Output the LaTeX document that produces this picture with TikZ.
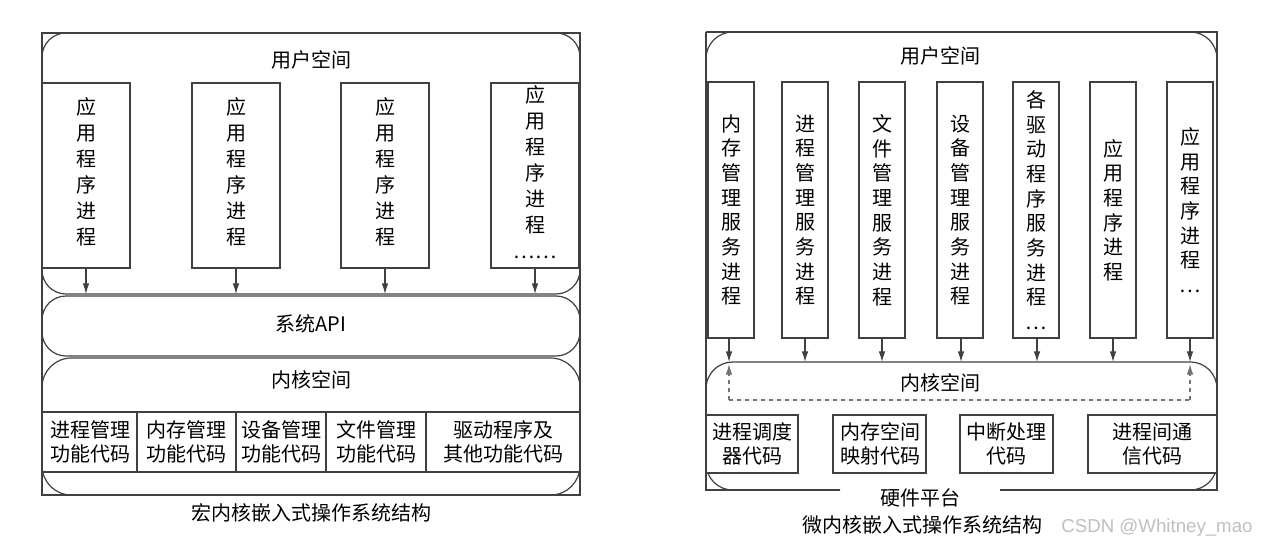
\documentclass[tikz,border=0pt]{standalone}
\usepackage{fontspec}
\setmainfont{Noto Sans CJK SC}
\usetikzlibrary{arrows.meta}
\begin{document}
\begin{tikzpicture}[x=0.75pt,y=-0.75pt,line width=0.9pt,draw=black!75,
  txt/.style={font=\fontsize{15}{18.5}\selectfont,inner sep=0pt},
  vtxt/.style={font=\fontsize{15}{19.5}\selectfont,inner sep=0pt,align=center},
  vtxtb/.style={font=\fontsize{15}{18.5}\selectfont,inner sep=0pt,align=center},
  box/.style={draw=black!75,fill=white},
  arr/.style={-{Latex[length=8pt,width=5pt]}}]
\useasboundingbox (0,0) rectangle (1277,553);
% ===== left =====
\draw (42,33) rectangle (580,495);
\draw[rounded corners=18pt] (42,33) rectangle (580,294);
\draw[rounded corners=18pt] (42,296) rectangle (580,356);
\draw[rounded corners=22pt] (42,358) rectangle (580,495);
\node[txt] (lu) at (311,60) {用户空间};
\foreach \n/\x/\t in {a/86/{应\\用\\程\\序\\进\\程},b/236/{应\\用\\程\\序\\进\\程},c/385/{应\\用\\程\\序\\进\\程}}{
  \draw[box] (\x-44,83) rectangle (\x+44,268);
  \node[vtxt] (l\n) at (\x,172) {\t};
  \coordinate (l\n b) at (\x,268); \coordinate (l\n e) at (\x,294);
  \draw[arr] (l\n b) -- (l\n e);
}
\draw[box] (491,83) rectangle (579,268);
\node[vtxt] (ld) at (535,172) {应\\用\\程\\序\\进\\程\\……};
\coordinate (ldb) at (535,268); \coordinate (lde) at (535,294);
\draw[arr] (ldb) -- (lde);
\node[txt] (api) at (311,324) {系统API};
\node[txt] (lk) at (311,380) {内核空间};
\draw (42,412) rectangle (580,472);
\foreach \x in {137,236,326,426} \draw (\x,412) -- (\x,472);
\node[txt,align=center] (f1) at (90,442) {进程管理\\功能代码};
\node[txt,align=center] (f2) at (186,442) {内存管理\\功能代码};
\node[txt,align=center] (f3) at (281,442) {设备管理\\功能代码};
\node[txt,align=center] (f4) at (376,442) {文件管理\\功能代码};
\node[txt,align=center] (f5) at (503,442) {驱动程序及\\其他功能代码};
\node[txt] (lcap) at (311,513) {宏内核嵌入式操作系统结构};
% ===== right =====
\draw (706,32) -- (706,490) -- (840,490);
\draw (1000,490) -- (1217,490) -- (1217,32) -- (706,32);
\draw[rounded corners=20pt] (706,362) -- (706,32) -- (1217,32) -- (1217,362);
\draw[rounded corners=20pt] (840,490) -- (706,490) -- (706,362) -- (1217,362) -- (1217,490) -- (1000,490);
\node[txt] (ru) at (940,56) {用户空间};
\foreach \n/\x/\t/\c in {
  p1/731/{内\\存\\管\\理\\服\\务\\进\\程}/210,
  p2/805/{进\\程\\管\\理\\服\\务\\进\\程}/210,
  p3/882/{文\\件\\管\\理\\服\\务\\进\\程}/210,
  p4/960/{设\\备\\管\\理\\服\\务\\进\\程}/210,
  p5/1036/{各\\驱\\动\\程\\序\\服\\务\\进\\程\\…}/210,
  p6/1113/{应\\用\\程\\序\\进\\程}/210,
  p7/1190/{应\\用\\程\\序\\进\\程\\…}/210}{
  \draw[box] (\x-23,82) rectangle (\x+23,338);
  \node[vtxtb] (r\n) at (\x,\c) {\t};
}
\foreach \n/\x in {p1/729,p2/805,p3/882,p4/961,p5/1037,p6/1113,p7/1190}{
  \coordinate (r\n b) at (\x,338); \coordinate (r\n e) at (\x,362);
  \draw[arr] (r\n b) -- (r\n e);
}
\coordinate (dl) at (729,400); \coordinate (dr) at (1190,400);
\coordinate (dlt) at (729,364); \coordinate (drt) at (1190,364);
\draw[dashed,black!55,arr] (dl) -- (dlt);
\draw[dashed,black!55,arr] (dr) -- (drt);
\draw[dashed,black!55] (dl) -- (dr);
\node[txt] (rk) at (940,383) {内核空间};
\draw[box] (706,415) rectangle (798,473);
\draw[box] (833,415) rectangle (926,473);
\draw[box] (960,415) rectangle (1053,473);
\draw[box] (1088,415) rectangle (1217,473);
\node[txt,align=center] (c1) at (752,444) {进程调度\\器代码};
\node[txt,align=center] (c2) at (880,444) {内存空间\\映射代码};
\node[txt,align=center] (c3) at (1006,444) {中断处理\\代码};
\node[txt,align=center] (c4) at (1152,444) {进程间通\\信代码};
\node[txt] (hw) at (920,498) {硬件平台};
\node[txt] (rcap) at (922,525) {微内核嵌入式操作系统结构};
\node[font=\fontsize{14}{18}\selectfont\fontspec{Liberation Sans},text=black!25,inner sep=0pt] (wm) at (1157,528) {CSDN @Whitney\_mao};
\end{tikzpicture}
\end{document}
